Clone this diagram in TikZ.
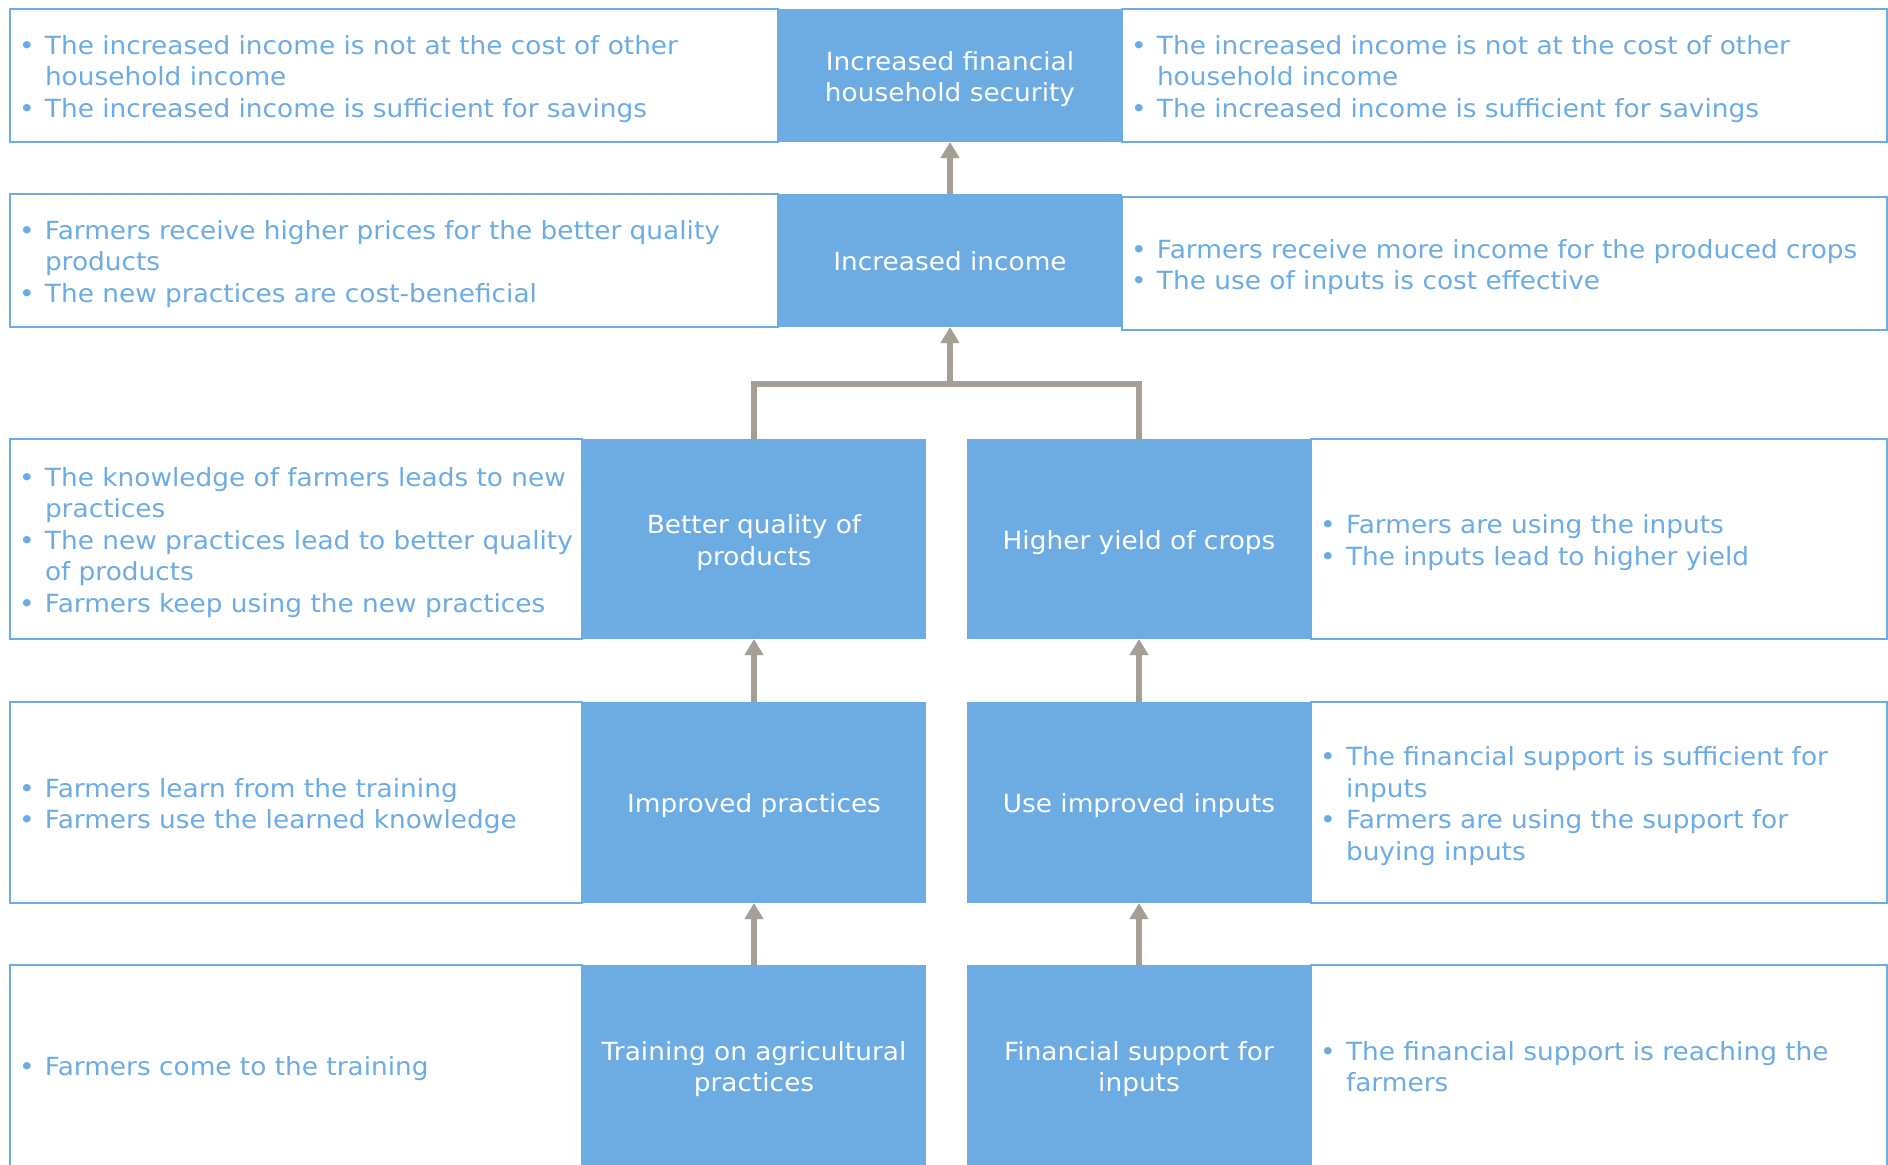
\documentclass[tikz,border=0pt]{standalone}
\usepackage{fontspec}
\setmainfont[FakeStretch=1.055]{DejaVu Sans}
\usetikzlibrary{positioning,arrows.meta}

\definecolor{boxblue}{RGB}{108,172,226}
\definecolor{arrowgray}{RGB}{164,158,148}

% fixed line height, so that every box centres its lines alike
\newcommand{\lstrut}{\rule[-2.65pt]{0pt}{15.75pt}}
\newcommand{\bitem}[1]{\noindent\hangindent=13pt\hangafter=1\lstrut\makebox[13pt][l]{\textbullet}#1\lstrut\par}

\tikzset{
  factor/.style={fill=boxblue, text=white, minimum width=172pt, text width=166pt,
    align=center, inner sep=0pt, outer sep=0pt,
    execute at begin node=\lstrut, execute at end node=\lstrut},
  assume/.style={draw=boxblue, line width=1pt, text=boxblue, align=left,
    inner xsep=4.5pt, inner ysep=0pt, outer sep=0pt},
  link/.style={draw=arrowgray, line width=2.6pt},
  tip/.style={-{Triangle[length=8pt,width=9pt]}}
}

\begin{document}
\begin{tikzpicture}[x=1pt,y=1pt, font=\fontsize{12.5}{15.75}\selectfont]
\clip (0,0) rectangle (944,-582);
\fill[white] (0,0) rectangle (944,-582);

% the results chain
\node[factor, minimum height=66.5pt] (security) at (475,-37.75) {Increased financial\\household security};
\node[factor, minimum height=66.5pt] (income) at (475,-130.25) {Increased income};
\node[factor, minimum height=100pt] (quality) at (377,-269.5) {Better quality of\\products};
\node[factor, minimum height=100pt] (yield) at (569.5,-269.5) {Higher yield of crops};
\node[factor, minimum height=100.5pt] (practices) at (377,-401.25) {Improved practices};
\node[factor, minimum height=100.5pt] (inputs) at (569.5,-401.25) {Use improved inputs};
\node[factor, minimum height=100.5pt] (training) at (377,-532.75) {Training on agricultural\\practices};
\node[factor, minimum height=100.5pt] (support) at (569.5,-532.75) {Financial support for\\inputs};

% assumptions
\node[assume, left=0pt of security, minimum height=66.5pt, text width=375pt] (security l) {%
  \bitem{The increased income is not at the cost of other\newline household income}%
  \bitem{The increased income is sufficient for savings}};
\node[assume, right=0pt of security, minimum height=66.5pt, text width=373.5pt] (security r) {%
  \bitem{The increased income is not at the cost of other\newline household income}%
  \bitem{The increased income is sufficient for savings}};
\node[assume, left=0pt of income, minimum height=66.5pt, text width=375pt] (income l) {%
  \bitem{Farmers receive higher prices for the better quality\newline products}%
  \bitem{The new practices are cost-beneficial}};
\node[assume, right=0pt of income, yshift=-1.5pt, minimum height=66.5pt, text width=373.5pt] (income r) {%
  \bitem{Farmers receive more income for the produced crops}%
  \bitem{The use of inputs is cost effective}};
\node[assume, left=0pt of quality, minimum height=100pt, text width=277pt] (quality l) {%
  \bitem{The knowledge of farmers leads to new\newline practices}%
  \bitem{The new practices lead to better quality\newline of products}%
  \bitem{Farmers keep using the new practices}};
\node[assume, right=0pt of yield, minimum height=100pt, text width=279pt] (yield r) {%
  \bitem{Farmers are using the inputs}%
  \bitem{The inputs lead to higher yield}};
\node[assume, left=0pt of practices, minimum height=100.5pt, text width=277pt] (practices l) {%
  \bitem{Farmers learn from the training}%
  \bitem{Farmers use the learned knowledge}};
\node[assume, right=0pt of inputs, minimum height=100.5pt, text width=279pt] (inputs r) {%
  \bitem{The financial support is sufficient for\newline inputs}%
  \bitem{Farmers are using the support for\newline buying inputs}};
\node[assume, left=0pt of training, minimum height=100.5pt, text width=277pt] (training l) {%
  \bitem{Farmers come to the training}};
\node[assume, right=0pt of support, minimum height=100.5pt, text width=279pt] (support r) {%
  \bitem{The financial support is reaching the\newline farmers}};

% arrows
\coordinate (join) at (475,-192);
\draw[link] (quality.north) |- (join) -| (yield.north);
\draw[link, tip] (join) -- (income.south);
\draw[link, tip] (income.north) -- (security.south);
\draw[link, tip] (practices.north) -- (quality.south);
\draw[link, tip] (inputs.north) -- (yield.south);
\draw[link, tip] (training.north) -- (practices.south);
\draw[link, tip] (support.north) -- (inputs.south);
\end{tikzpicture}
\end{document}
